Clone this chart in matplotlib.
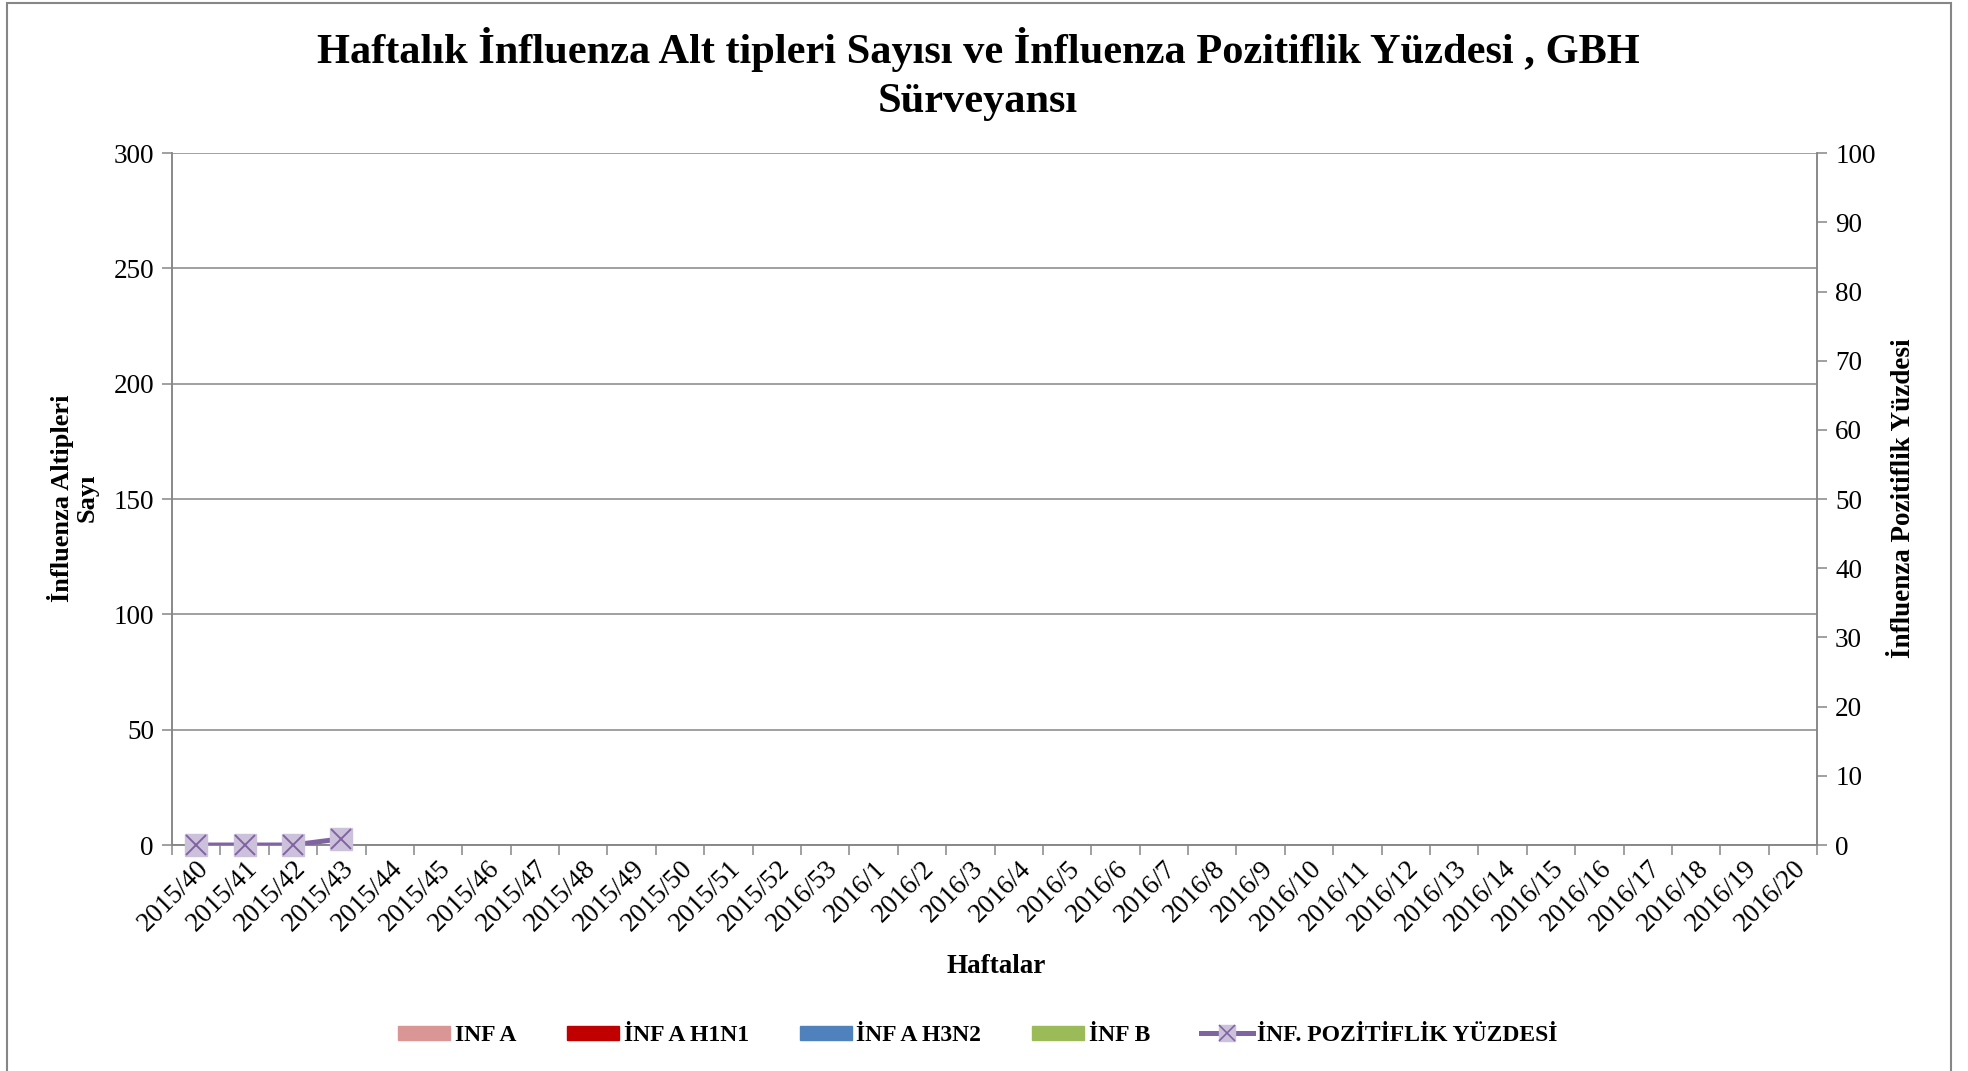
import numpy as np
import matplotlib
matplotlib.use("Agg")
import matplotlib.pyplot as plt
from matplotlib.patches import Rectangle
from matplotlib.lines import Line2D

plt.rcParams["font.family"] = ["Liberation Serif", "DejaVu Serif"]

WEEKS = (["2015/%d" % w for w in range(40, 53)] + ["2016/53"]
         + ["2016/%d" % w for w in range(1, 21)])

# bar series (all zero in the reference)
INF_A = [0] * len(WEEKS)
INF_A_H1N1 = [0] * len(WEEKS)
INF_A_H3N2 = [0] * len(WEEKS)
INF_B = [0] * len(WEEKS)

# positivity percentage, only the first four weeks reported
POSITIVITY = [0, 0, 0, 0.9] + [np.nan] * (len(WEEKS) - 4)

BAR_SERIES = [
    ("INF A", INF_A, "#D99694"),
    ("İNF A H1N1", INF_A_H1N1, "#C00000"),
    ("İNF A H3N2", INF_A_H3N2, "#4F81BD"),
    ("İNF B", INF_B, "#9BBB59"),
]
GRID = "#868686"
PURPLE = "#8064A2"
LILAC = "#CCC1DA"


def main():
    fig = plt.figure(figsize=(19.68, 10.71), dpi=100)
    ax = fig.add_axes([0.0874, 0.211, 0.8359, 0.646])
    ax2 = ax.twinx()

    x = np.arange(len(WEEKS))
    w = 0.18
    for i, (name, vals, col) in enumerate(BAR_SERIES):
        ax.bar(x + (i - 1.5) * w, vals, w, color=col, linewidth=0)

    ax2.plot(x, POSITIVITY, color=PURPLE, lw=3.6, zorder=3)
    ax2.plot(x, POSITIVITY, ls="none", marker="s", ms=15.5, mfc=LILAC,
             mec=LILAC, zorder=4, clip_on=False)
    ax2.plot(x, POSITIVITY, ls="none", marker="x", ms=14, mec=PURPLE,
             mew=1.4, zorder=5, clip_on=False)

    ax.set_xlim(-0.5, len(WEEKS) - 0.5)
    ax.set_ylim(0, 300)
    ax.set_yticks(range(0, 301, 50))
    ax2.set_ylim(0, 100)
    ax2.set_yticks(range(0, 101, 10))
    ax.grid(axis="y", color=GRID, lw=1.1)
    ax.set_axisbelow(True)

    ax.set_xticks(np.arange(-0.5, len(WEEKS)), minor=False)
    ax.set_xticklabels([])
    ax.set_xticks(x, minor=True)
    ax.set_xticklabels(WEEKS, minor=True, rotation=45, ha="right",
                       rotation_mode="anchor", fontsize=19.5)
    ax.tick_params(axis="x", which="minor", length=0, pad=8)
    ax.tick_params(axis="x", which="major", length=7, color=GRID, width=1.1)
    ax.tick_params(axis="y", labelsize=19.5, length=7, color=GRID,
                   width=1.1, pad=6)
    ax2.tick_params(axis="y", labelsize=19.5, length=7, color=GRID,
                    width=1.1, pad=6)

    for a in (ax, ax2):
        a.spines["top"].set_visible(False)
        for s in ("left", "right", "bottom"):
            a.spines[s].set_color(GRID)
            a.spines[s].set_linewidth(1.1)

    fig.text(0.497, 0.931,
             "Haftalık İnfluenza Alt tipleri Sayısı ve İnfluenza Pozitiflik Yüzdesi , GBH\nSürveyansı",
             ha="center", va="center", fontsize=30.5, fontweight="bold",
             linespacing=1.38)
    fig.text(0.037, 0.535, "İnfluenza Altipleri\nSayı", rotation=90,
             ha="center", va="center", fontsize=19, fontweight="bold",
             linespacing=1.1)
    fig.text(0.967, 0.535, "İnfluenza Pozitiflik Yüzdesi", rotation=90,
             ha="center", va="center", fontsize=19.5, fontweight="bold")
    fig.text(0.506, 0.098, "Haftalar", ha="center", va="center",
             fontsize=19.5, fontweight="bold")

    handles = [Rectangle((0, 0), 1, 1, color=c) for _, _, c in BAR_SERIES]
    handles.append((Line2D([], [], color=PURPLE, lw=3.6, marker="s", ms=12,
                           mfc=LILAC, mec=LILAC),
                    Line2D([], [], ls="none", marker="x", ms=11,
                           mec=PURPLE, mew=1.2)))
    labels = [n for n, _, _ in BAR_SERIES] + ["İNF. POZİTİFLİK YÜZDESİ"]
    fig.legend(handles, labels, loc="center", bbox_to_anchor=(0.497, 0.033),
               ncol=5, frameon=False, prop={"weight": "bold", "size": 17},
               handlelength=2.2, handleheight=0.55, columnspacing=2.15,
               handletextpad=0.2)

    # chart-area border
    fig.add_artist(Rectangle((0.0036, -0.01), 0.9878, 1.007,
                             transform=fig.transFigure, fill=False,
                             edgecolor=GRID, lw=1.5))

    fig.savefig("out.png", dpi=100, facecolor="white")


if __name__ == "__main__":
    main()
